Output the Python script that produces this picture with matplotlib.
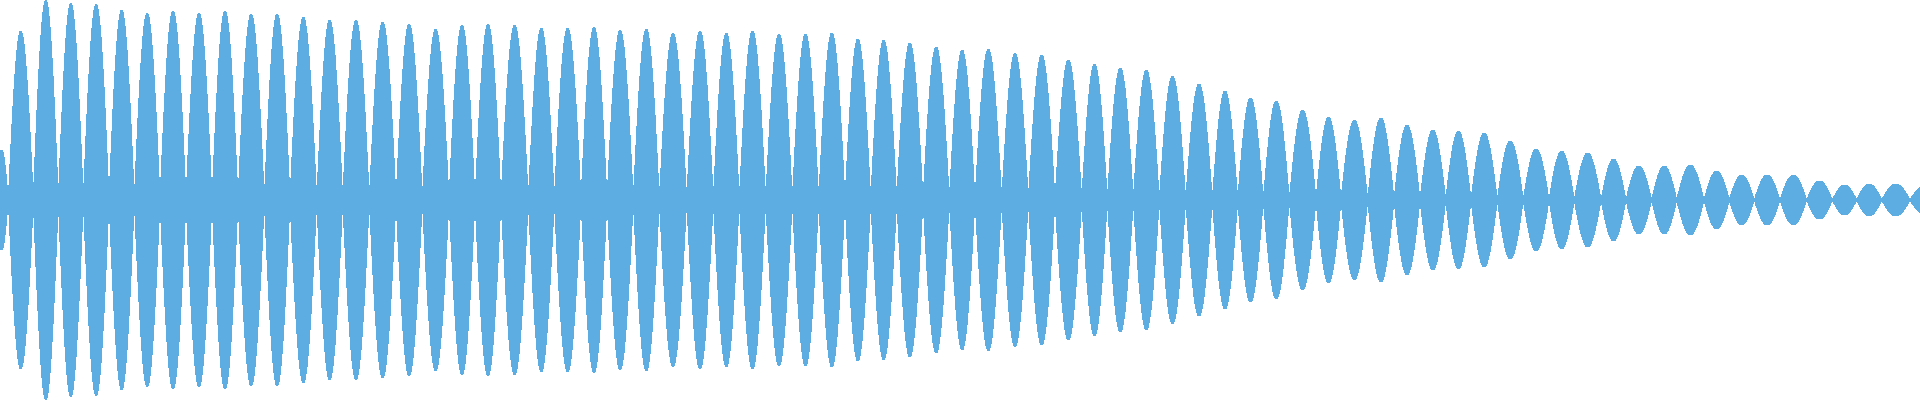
import numpy as np
import matplotlib
matplotlib.use('Agg')
import matplotlib.pyplot as plt

# zero crossings of the waveform (time axis, 0..1920)
crossings = [-5, 8.3, 33.3, 58.3, 83.3, 109, 134.3, 160, 186, 212, 238, 264.3,
             290, 316.7, 342.7, 369.3, 396, 422.3, 449, 475, 501, 528.3, 554.3,
             581, 607, 633.3, 659.3, 686.7, 713.3, 739.3, 765.7, 792.3, 818.7,
             845, 870.7, 896.7, 923, 949.3, 975, 1001.7, 1028.3, 1055, 1081.7,
             1107.3, 1133.3, 1159.3, 1185.7, 1212.3, 1237.7, 1263.3, 1289.3,
             1316, 1341, 1367.7, 1394, 1420, 1445.7, 1471, 1497.3, 1523.3, 1549,
             1574.3, 1601, 1626, 1651.7, 1676.7, 1704, 1729.3, 1754.3, 1780,
             1806.7, 1832.3, 1856.7, 1881.7, 1910, 1936]

# peak amplitude of each lobe between two crossings
amps = [50, 169, 200, 197, 196, 190, 187, 189, 187, 189, 186, 186,
        183, 180, 180, 178, 176, 171, 175, 176, 175, 172, 172, 173,
        170, 171, 167, 169, 167, 169, 166, 166, 167, 161, 160, 157,
        153, 150, 151, 147, 145, 140, 136, 132, 130, 124, 116, 109,
        102, 99, 90, 83, 80, 82, 75, 70, 69, 67, 59, 51, 49, 47,
        41, 34, 34, 35, 29, 25, 25, 25, 19, 15, 16, 16, 13]

c = np.array(crossings, dtype=float)
a = np.array(amps, dtype=float)

t = np.linspace(0, 1920, 1920 * 8 + 1)
k = np.clip(np.searchsorted(c, t, side='right') - 1, 0, len(a) - 1)
phase = (t - c[k]) / (c[k + 1] - c[k])
env = a[k] * np.abs(np.sin(np.pi * phase))

fig = plt.figure(figsize=(19.2, 4), dpi=100)
ax = fig.add_axes([0, 0, 1, 1])
ax.fill_between(t, -env, env, color='#5DADE2', linewidth=0, antialiased=False)
ax.set_xlim(0, 1920)
ax.set_ylim(-200, 200)
ax.axis('off')
fig.savefig('out.png', dpi=100)
